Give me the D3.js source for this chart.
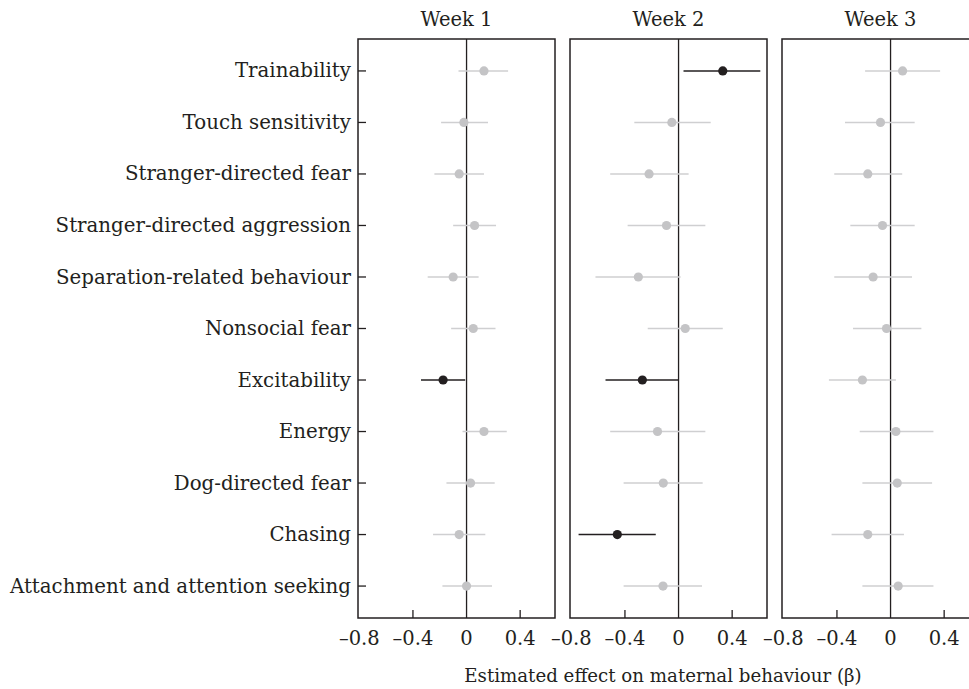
<!DOCTYPE html>
<html><head><meta charset="utf-8">
<script src="https://cdn.jsdelivr.net/npm/d3@7"></script>
<style>body{margin:0;background:#fff}svg{display:block}text{font-family:"DejaVu Serif","Liberation Serif",serif;fill:#231f20}</style>
</head><body><svg id="c" width="969" height="689"></svg>
<script>
const traits = ["Trainability","Touch sensitivity","Stranger-directed fear","Stranger-directed aggression","Separation-related behaviour","Nonsocial fear","Excitability","Energy","Dog-directed fear","Chasing","Attachment and attention seeking"];
const weeks = ["Week 1","Week 2","Week 3"];
// estimates, lower and upper bounds, significance per week
const week1Est = [0.13,-0.02,-0.055,0.06,-0.10,0.05,-0.175,0.13,0.03,-0.055,0.0];
const week1Lo  = [-0.06,-0.19,-0.24,-0.10,-0.29,-0.115,-0.34,-0.03,-0.15,-0.25,-0.18];
const week1Hi  = [0.31,0.16,0.13,0.22,0.09,0.216,-0.01,0.30,0.21,0.14,0.19];
const week1Sig = [0,0,0,0,0,0,1,0,0,0,0];
const week2Est = [0.33,-0.05,-0.22,-0.09,-0.30,0.05,-0.27,-0.157,-0.114,-0.457,-0.116];
const week2Lo  = [0.037,-0.33,-0.51,-0.38,-0.62,-0.23,-0.545,-0.51,-0.41,-0.746,-0.41];
const week2Hi  = [0.61,0.24,0.075,0.20,0.015,0.33,0.0,0.20,0.18,-0.17,0.175];
const week2Sig = [1,0,0,0,0,0,1,0,0,1,0];
const week3Est = [0.09,-0.075,-0.17,-0.06,-0.13,-0.03,-0.21,0.04,0.05,-0.17,0.057];
const week3Lo  = [-0.19,-0.34,-0.42,-0.30,-0.42,-0.28,-0.46,-0.23,-0.21,-0.44,-0.21];
const week3Hi  = [0.37,0.18,0.087,0.18,0.16,0.23,0.04,0.32,0.31,0.10,0.32];
const week3Sig = [0,0,0,0,0,0,0,0,0,0,0];
const xTicks = [-0.8,-0.4,0,0.4];
const xTickLabels = ["–0.8","–0.4","0","0.4"];
const xTitle = "Estimated effect on maternal behaviour (β)";

const series = [
  {est:week1Est, lo:week1Lo, hi:week1Hi, sig:week1Sig},
  {est:week2Est, lo:week2Lo, hi:week2Hi, sig:week2Sig},
  {est:week3Est, lo:week3Lo, hi:week3Hi, sig:week3Sig}
];

const ink = "#231f20", greyDot = "#c4c4c6", greyLine = "#cfcfd1";
const fs = 19.5;
const svg = d3.select("#c");
const plotTop = 39, plotBottom = 618;
const panel = d3.scaleBand().domain(weeks).range([358, 979]).paddingInner(15/212).paddingOuter(0);
const y = d3.scalePoint().domain(traits).range([plotTop, plotBottom]).padding(0.62);
const pw = panel.bandwidth();

svg.append("g").selectAll("text").data(traits).join("text")
  .attr("x", 351).attr("y", d => y(d)).attr("dy", "0.33em")
  .attr("text-anchor", "end").attr("font-size", 19.8).text(d => d);

weeks.forEach((w, i) => {
  const x0 = panel(w);
  const x = d3.scaleLinear().domain([-0.81, 0.66]).range([x0, x0 + pw]);
  const g = svg.append("g");
  const s = series[i];
  const rows = traits.map((t, k) => ({t, est:s.est[k], lo:s.lo[k], hi:s.hi[k], sig:s.sig[k]}));
  g.append("text").attr("x", x0 + pw/2).attr("y", 26).attr("text-anchor","middle")
    .attr("font-size", fs).text(w);
  g.append("line").attr("x1", x(0)).attr("x2", x(0)).attr("y1", plotTop).attr("y2", plotBottom)
    .attr("stroke", ink).attr("stroke-width", 1.3);
  g.selectAll("line.ci").data(rows).join("line").attr("class","ci")
    .attr("x1", d => x(d.lo)).attr("x2", d => x(d.hi))
    .attr("y1", d => y(d.t)).attr("y2", d => y(d.t))
    .attr("stroke", d => d.sig ? ink : greyLine).attr("stroke-width", 1.5);
  g.selectAll("circle").data(rows).join("circle")
    .attr("cx", d => x(d.est)).attr("cy", d => y(d.t)).attr("r", 4.6)
    .attr("fill", d => d.sig ? ink : greyDot);
  g.append("rect").attr("x", x0).attr("y", plotTop).attr("width", pw).attr("height", plotBottom - plotTop)
    .attr("fill","none").attr("stroke", ink).attr("stroke-width", 1.5);
  g.selectAll("line.xt").data(xTicks.filter(v => v !== 0 && v > -0.8)).join("line").attr("class","xt")
    .attr("x1", d => x(d)).attr("x2", d => x(d)).attr("y1", plotBottom).attr("y2", plotBottom - 8)
    .attr("stroke", ink).attr("stroke-width", 1.3);
  g.selectAll("text.xl").data(xTicks).join("text").attr("class","xl")
    .attr("x", d => x(d)).attr("y", 645).attr("text-anchor","middle").attr("font-size", fs)
    .text((d, k) => xTickLabels[k]);
  if (i === 0) {
    g.selectAll("line.yt").data(traits).join("line").attr("class","yt")
      .attr("x1", x0).attr("x2", x0 + 8).attr("y1", d => y(d)).attr("y2", d => y(d))
      .attr("stroke", ink).attr("stroke-width", 1.3);
  }
});

svg.append("text").attr("x", 663).attr("y", 682).attr("text-anchor","middle")
  .attr("font-size", 18.2).text(xTitle);
</script></body></html>
